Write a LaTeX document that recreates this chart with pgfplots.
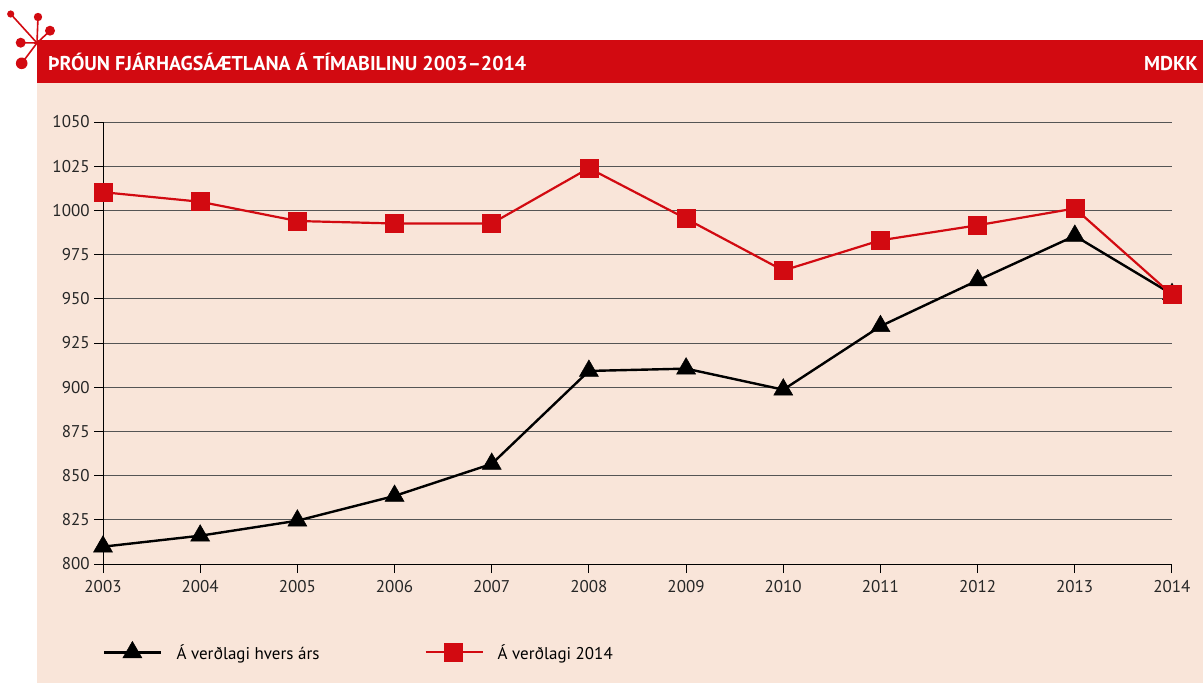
\documentclass[border=0pt]{standalone}
\usepackage{pgfplots}
\pgfplotsset{compat=1.18}
\usepackage{fontspec}
\setmainfont{PT Sans}
\definecolor{bg}{HTML}{F9E5D9}
\definecolor{dred}{HTML}{D20A11}
\definecolor{gridc}{HTML}{555555}
\pgfplotsset{/pgf/number format/1000 sep={}}
\begin{document}
\begin{tikzpicture}
\useasboundingbox (0pt,0pt) rectangle (1203pt,-683pt);
\fill[bg] (37pt,-83pt) rectangle (1203pt,-683pt);
\fill[dred] (37pt,-40pt) rectangle (1203pt,-83pt);
% logo
\begin{scope}[dred, line width=1.6pt, x=1pt, y=1pt]
\draw (10.7,-14) -- (37,-43);
\draw (38,-17) -- (37,-43);
\draw (50,-30.7) -- (37,-43);
\draw (20.7,-42.7) -- (37,-43);
\draw (21.7,-63.3) -- (37,-43);
\fill (10.7,-14) circle (3.6);
\fill (38,-17) circle (4.2);
\fill (50,-30.7) circle (5);
\fill (20.7,-42.7) circle (5);
\fill (21.7,-63.3) circle (5.8);
\end{scope}
\node[anchor=base west,text=white,font=\fontsize{20}{24}\selectfont\bfseries,inner sep=0] at (48pt,-70pt) {ÞRÓUN FJÁRHAGSÁÆTLANA Á TÍMABILINU 2003–2014};
\node[anchor=base east,text=white,font=\fontsize{20}{24}\selectfont\bfseries,inner sep=0] at (1198pt,-70pt) {MDKK};
\begin{axis}[
  at={(103pt,-564pt)}, anchor=south west,
  scale only axis, width=1069pt, height=442pt,
  xmin=2003, xmax=2014, ymin=800, ymax=1050,
  xtick={2003,...,2014}, ytick={800,825,...,1050},
  ymajorgrids, grid style={gridc, line width=0.9pt},
  axis x line*=bottom, axis y line*=left,
  axis line style={black, line width=0.9pt},
  tick align=outside,
  major tick length=9pt,
  tick style={black, line width=0.9pt},
  tick label style={font=\fontsize{17}{20}\selectfont, text=black!85},
  yticklabel style={xshift=-1pt},
  xticklabel style={yshift=-4pt},
  /pgf/number format/assume math mode=true,
  clip=false,
  legend style={at={(rel axis cs:0,-0.199)}, anchor=west, draw=none, fill=none,
    font=\fontsize{17}{20}\selectfont, inner sep=0pt,
    /tikz/every even column/.append style={column sep=103pt}},
  legend columns=2,
  legend image code/.code={\draw[mark repeat=2,mark phase=2] plot coordinates {(0pt,0pt) (28pt,0pt) (57pt,0pt)}; \path (69pt,0pt);},
]
\addplot[black, line width=2.4pt, mark=triangle*, mark size=11pt, mark options={solid, line width=0.5pt}] coordinates {
(2003,809.8) (2004,816.0) (2005,824.5) (2006,838.5) (2007,856.6) (2008,909.2)
(2009,910.5) (2010,898.6) (2011,934.5) (2012,960.4) (2013,985.6) (2014,952.6)};
\addlegendentry{Á verðlagi hvers árs}
\addplot[dred, line width=2.2pt, mark=square*, mark size=9pt, mark options={solid, line width=0.5pt}] coordinates {
(2003,1010.3) (2004,1004.9) (2005,994.0) (2006,992.6) (2007,992.6) (2008,1023.9)
(2009,995.3) (2010,966.0) (2011,983.1) (2012,991.6) (2013,1001.1) (2014,952.3)};
\addlegendentry{Á verðlagi 2014}
\end{axis}
\end{tikzpicture}
\end{document}
